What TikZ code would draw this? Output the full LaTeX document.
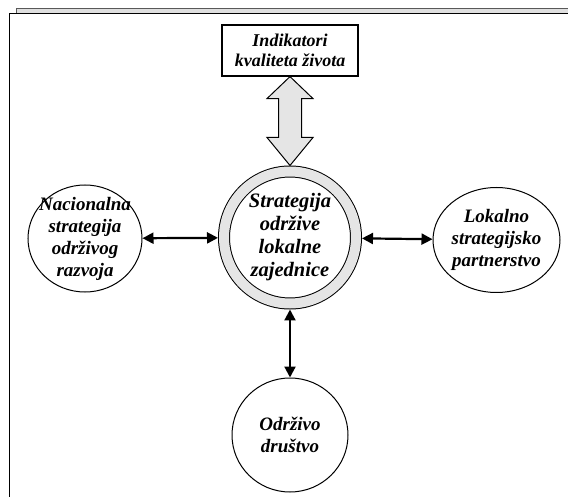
\documentclass[tikz,border=0pt]{standalone}
\usepackage{fontspec}
\setmainfont{Liberation Serif}[BoldFont={* Bold}, ItalicFont={* Italic}, BoldItalicFont={* Bold Italic}]
\usetikzlibrary{shapes.geometric,arrows.meta,calc}
\tikzset{
  topictext/.style={inner sep=0pt, align=center,
    font=\fontsize{19}{22}\selectfont\bfseries\itshape},
  topic/.style={ellipse, draw, line width=1pt, inner sep=0pt},
  core/.style={circle, draw, line width=1pt, double=gray!20, double distance=10pt,
    fill=white, minimum size=132pt, outer sep=6pt, inner sep=0pt, align=center,
    font=\fontsize{20.5}{23}\selectfont\bfseries\itshape},
  infobox/.style={rectangle, draw, line width=1.2pt, minimum width=136pt,
    minimum height=51pt, inner sep=0pt, align=center,
    font=\fontsize{18}{20}\selectfont\bfseries\itshape},
  bigarrow/.style={draw, line width=1pt, fill=gray!20, line join=miter}
}
\newcommand{\mylink}[2]
{
\draw[line width=2.2pt, {Triangle[length=11pt,width=11pt]}-{Triangle[length=11pt,width=11pt]}] (#1) -- (#2);
}

\begin{document}
\begin{tikzpicture}[x=1pt, y=-1pt]
  \useasboundingbox (0,0) rectangle (568,497);

  \fill[gray!25] (16,8.5) rectangle (568,13);
  \draw[gray!70!black, line width=1pt] (16,13) -- (16,8.5) -- (568,8.5);
  \draw[line width=1.2pt] (568,13.5) -- (9.5,13.5) -- (9.5,497);

  \node[infobox] (ind) at (290,50.5) {Indikatori\\kvaliteta života};

  \node[core] (strat) at (290,237.5) {Strategija\\održive\\lokalne\\zajednice};

  \draw[bigarrow] (ind.south) -- ++(23,22) -- ++(-11.5,0)
    -- ($(strat.north)+(11.5,-28)$) -- ++(11.5,0) -- (strat.north)
    -- ++(-23,-28) -- ++(11.5,0) -- ($(ind.south)+(-11.5,22)$)
    -- ++(-11.5,0) -- cycle;

  \node[topic, minimum width=114pt, minimum height=107pt,
    label={[topictext]center:Nacionalna\\strategija\\održivog\\razvoja}] (nac) at (85,238.5) {};
  \mylink{nac}{strat}

  \node[topic, minimum width=127pt, minimum height=105pt,
    label={[topictext]center:Lokalno\\strategijsko\\partnerstvo}] (lok) at (496.5,240) {};
  \mylink{strat}{lok}

  \node[topic, minimum width=116pt, minimum height=114pt,
    label={[topictext]center:Održivo\\društvo}] (odr) at (290,435) {};
  \mylink{strat}{odr}
\end{tikzpicture}
\end{document}
